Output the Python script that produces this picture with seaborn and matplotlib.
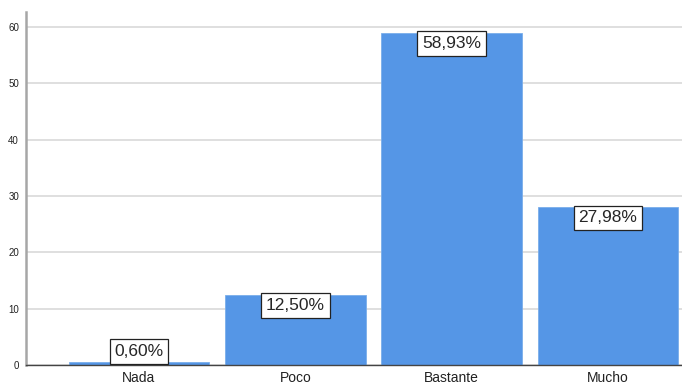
import matplotlib
matplotlib.use("Agg")
import matplotlib.pyplot as plt
import seaborn as sns
import pandas as pd

categories = ["Nada", "Poco", "Bastante", "Mucho"]
percent = [0.60, 12.50, 58.93, 27.98]
labels = ["0,60%", "12,50%", "58,93%", "27,98%"]

df = pd.DataFrame({"cat": categories, "pct": percent})

sns.set_style("white")
plt.rcParams["font.family"] = ["Liberation Sans", "DejaVu Sans"]

fig = plt.figure(figsize=(6.82, 3.85), dpi=100)
ax = fig.add_axes([0.038, 0.052, 0.962, 0.917])

sns.barplot(data=df, x="cat", y="pct", color="#5596E6", saturation=1,
            width=0.9, edgecolor="#7aaeea", linewidth=0.6, ax=ax, zorder=2)

ax.set_ylim(0, 62.7)
ax.set_xlim(-0.723, 3.474)
ax.set_yticks(range(0, 61, 10))
ax.yaxis.grid(True, color="#d9d9d9", linewidth=1.2, zorder=0)
ax.set_axisbelow(True)
ax.set_xlabel("")
ax.set_ylabel("")

for s in ["top", "right"]:
    ax.spines[s].set_visible(False)
ax.spines["left"].set_color("#a6a6a6")
ax.spines["left"].set_linewidth(1.8)
ax.spines["bottom"].set_color("#444444")
ax.spines["bottom"].set_linewidth(1.0)

ax.tick_params(axis="y", labelsize=7, length=0, pad=5, labelcolor="#222222")
ax.tick_params(axis="x", labelsize=10, length=0, pad=4, labelcolor="#222222")

for i, (v, lab) in enumerate(zip(percent, labels)):
    box = dict(boxstyle="square,pad=0.28", fc="white", ec="#222222", lw=0.9)
    if v < 5:
        ax.annotate(lab, (i, v), xytext=(0, 2), textcoords="offset points",
                    ha="center", va="bottom", fontsize=12.5, zorder=5, bbox=box)
    else:
        ax.annotate(lab, (i, v), xytext=(0, -2.2), textcoords="offset points",
                    ha="center", va="top", fontsize=12.5, zorder=5, bbox=box)

fig.savefig("out.png", dpi=100)
